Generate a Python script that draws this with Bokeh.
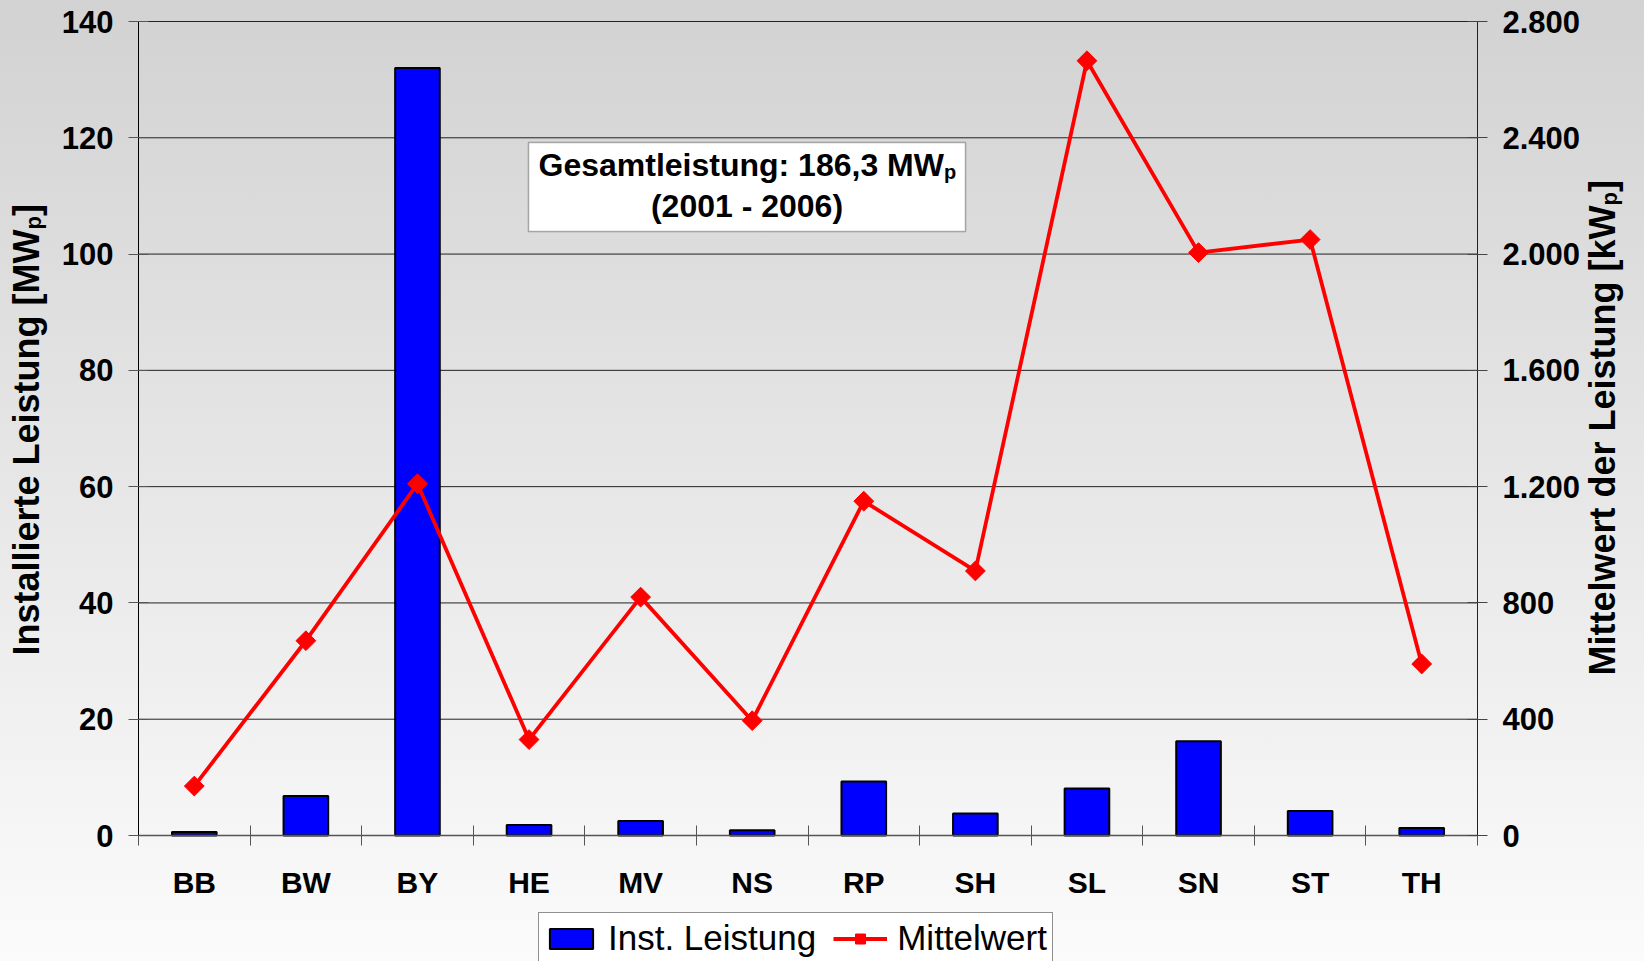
import math
from bokeh.plotting import figure
from bokeh.models import (Range1d, LinearAxis, FixedTicker, Label, BoxAnnotation,
                          Legend, LegendItem, GlobalInlineStyleSheet)
from bokeh.embed import file_html
from bokeh.resources import INLINE

# ---- data ----
categories = ["BB", "BW", "BY", "HE", "MV", "NS", "RP", "SH", "SL", "SN", "ST", "TH"]
inst_leistung = [0.6, 6.8, 132.0, 1.8, 2.5, 0.9, 9.3, 3.8, 8.1, 16.2, 4.2, 1.3]   # MWp
mittelwert = [170, 670, 1210, 330, 820, 395, 1150, 910, 2665, 2005, 2050, 590]     # kWp
left_ticks = [0, 20, 40, 60, 80, 100, 120, 140]
right_ticks = [0, 400, 800, 1200, 1600, 2000, 2400, 2800]
right_tick_labels = ["0", "400", "800", "1.200", "1.600", "2.000", "2.400", "2.800"]

FONT = "Liberation Sans"
n = len(categories)
xc = [i + 0.5 for i in range(n)]

# layout (pixels): plot area 138..1477 horizontally, 21..835 vertically
W, H = 1644, 961
PL, PR, PT, PB = 138, 1477, 21, 835
ymax_l, ymax_r = left_ticks[-1], right_ticks[-1]
kx = (PR - PL) / n
kyl = (PB - PT) / ymax_l
kyr = (PB - PT) / ymax_r

p = figure(frame_width=W, frame_height=H,
           x_range=Range1d(-PL / kx, n + (W - PR) / kx),
           y_range=Range1d(-(H - PB) / kyl, ymax_l + PT / kyl),
           output_backend="svg", toolbar_location=None,
           min_border=0, min_border_left=0, min_border_right=0,
           min_border_top=0, min_border_bottom=0,
           x_axis_location=None, y_axis_location=None)
p.extra_y_ranges = {"kw": Range1d(-(H - PB) / kyr, ymax_r + PT / kyr)}
p.border_fill_color = None
p.background_fill_color = None
p.outline_line_color = None
p.xgrid.visible = False
p.ygrid.visible = False
p.stylesheets = [GlobalInlineStyleSheet(
    css="html{min-height:100%;background:linear-gradient(#d2d2d2,#fbfbfb) fixed;} body{background:transparent;overflow:hidden;}")]

# horizontal grid lines
p.segment(x0=0, x1=n, y0=left_ticks[1:], y1=left_ticks[1:],
          line_color="#222222", line_width=1)

def style_labels(ax, size="31px"):
    ax.major_label_text_font = FONT
    ax.major_label_text_font_style = "bold"
    ax.major_label_text_font_size = size
    ax.major_label_text_color = "black"

# x axis
xa = LinearAxis(fixed_location=0, bounds=(0, n),
                ticker=FixedTicker(ticks=xc, minor_ticks=list(range(n + 1))),
                major_label_overrides={xv: c for xv, c in zip(xc, categories)})
xa.major_tick_in = 0
xa.major_tick_out = 0
xa.minor_tick_in = 10
xa.minor_tick_out = 10
xa.minor_tick_line_color = "#555555"
xa.axis_line_color = "#555555"
xa.axis_line_width = 1.5
xa.major_label_standoff = 20
style_labels(xa, "30px")
p.add_layout(xa, "below")

# left axis
ya = LinearAxis(fixed_location=0, bounds=(0, ymax_l), ticker=FixedTicker(ticks=left_ticks))
ya.major_tick_in = 10
ya.major_tick_out = 10
ya.major_tick_line_color = "#555555"
ya.minor_tick_line_color = None
ya.axis_line_color = "black"
ya.major_label_standoff = 15
style_labels(ya)
p.add_layout(ya, "left")

# right axis
ra = LinearAxis(y_range_name="kw", fixed_location=n, bounds=(0, ymax_r),
                ticker=FixedTicker(ticks=right_ticks),
                major_label_overrides={t: s for t, s in zip(right_ticks, right_tick_labels)})
ra.major_tick_in = 10
ra.major_tick_out = 10
ra.major_tick_line_color = "#444444"
ra.minor_tick_line_color = None
ra.axis_line_color = "#222222"
ra.major_label_standoff = 15
style_labels(ra)
p.add_layout(ra, "right")

# data
bars = p.vbar(x=xc, top=inst_leistung, bottom=0, width=0.4,
              fill_color="#0000ff", line_color="black", line_width=2)
ln = p.line(xc, mittelwert, y_range_name="kw", line_color="#ff0000", line_width=3.8)
sc = p.scatter(xc, mittelwert, y_range_name="kw", marker="square", size=14,
               angle=math.pi / 4, fill_color="#ff0000", line_color="#ff0000")

# legend (screen coords from bottom-left of the canvas)
legend = Legend(items=[LegendItem(label="Inst. Leistung", renderers=[bars]),
                       LegendItem(label="Mittelwert", renderers=[ln, sc])],
                orientation="horizontal", location=(538, -3),
                label_text_font=FONT, label_text_font_size="35px",
                label_text_color="black",
                glyph_width=54, glyph_height=25, label_standoff=10, spacing=17,
                padding=5, margin=0, border_line_color="#222222", border_line_width=1,
                background_fill_color="white", background_fill_alpha=1.0)
p.add_layout(legend)

# annotation box
def dx(px):
    return (px - PL) / kx

def dy(py):
    return (PB - py) / kyl

p.add_layout(BoxAnnotation(left=dx(528), right=dx(965), top=dy(142), bottom=dy(231),
                           fill_color="white", fill_alpha=1.0,
                           line_color="black", line_width=1.5))
p.add_layout(Label(x=dx(538), y=dy(164), text="Gesamtleistung: 186,3 MW",
                   text_font=FONT, text_font_style="bold", text_font_size="32px",
                   text_align="left", text_baseline="alphabetic", text_color="black"))
p.add_layout(Label(x=dx(943.5), y=dy(171), text="p",
                   text_font=FONT, text_font_style="bold", text_font_size="20px",
                   text_align="left", text_baseline="alphabetic", text_color="black"))
p.add_layout(Label(x=dx(746.5), y=dy(205), text="(2001 - 2006)",
                   text_font=FONT, text_font_style="bold", text_font_size="32px",
                   text_align="center", text_baseline="alphabetic", text_color="black"))

# axis titles (rotated, with subscript p); screen coords from bottom-left
def title(parts, x0, y0):
    for txt, up, right, size in parts:
        p.add_layout(Label(x=x0 + right, y=y0 + up, x_units="screen", y_units="screen",
                           text=txt, angle=math.pi / 2, text_font=FONT,
                           text_font_style="bold", text_font_size=size,
                           text_align="left", text_baseline="alphabetic",
                           text_color="black"))

title([("Installierte Leistung [MW", 0, 0, "36px"),
       ("p", 426, 7, "22px"),
       ("]", 439.5, 0, "36px")], 26, H - 655)
title([("Mittelwert der Leistung [kW", 0, 0, "36px"),
       ("p", 470, 7, "22px"),
       ("]", 483.5, 0, "36px")], 1602, H - 675)

open("out.html", "w").write(file_html(p, INLINE))
